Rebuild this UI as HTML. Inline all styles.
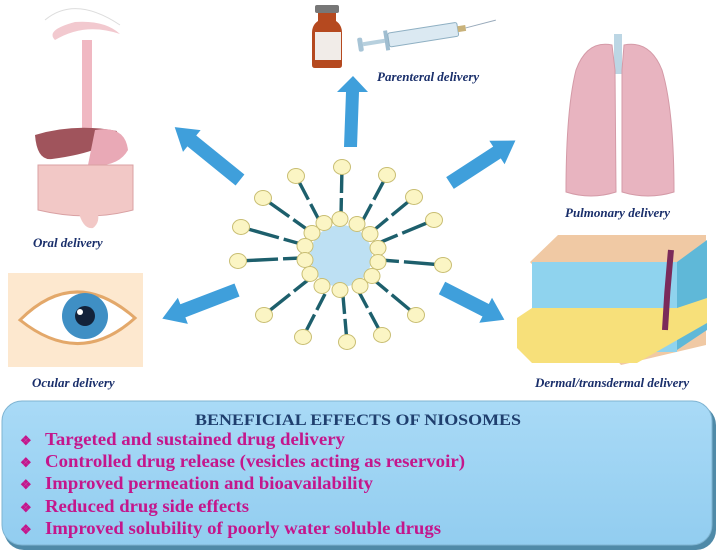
<!DOCTYPE html>
<html><head><meta charset="utf-8"><style>
html,body{margin:0;padding:0;background:#fff;}
svg{display:block;}
.lab{font-family:"Liberation Serif",serif;font-style:italic;font-weight:bold;fill:#1a2f6b;font-size:13px;}
.it{font-family:"Liberation Serif",serif;font-weight:bold;fill:#c4168c;font-size:18px;}
</style></head><body>
<svg width="720" height="557" viewBox="0 0 720 557" xmlns="http://www.w3.org/2000/svg">
<defs>
<linearGradient id="bx" x1="0" y1="0" x2="0" y2="1"><stop offset="0" stop-color="#a9daf6"/><stop offset="1" stop-color="#92cdf0"/></linearGradient>
</defs>
<!-- arrows -->
<g fill="#3f9fdb">
<polygon points="344,147 346,92 337,92 353,76 368,92 359,92 357,147"/>
<g transform="translate(240,180) rotate(-141)"><polygon points="0,-7 62,-7 62,-14 84,0 62,14 62,7 0,7"/></g>
<g transform="translate(450,183) rotate(-33)"><polygon points="0,-7 56,-7 56,-14 78,0 56,14 56,7 0,7"/></g>
<g transform="translate(237,290) rotate(159)"><polygon points="0,-7 58,-7 58,-14 80,0 58,14 58,7 0,7"/></g>
<g transform="translate(442,288) rotate(27)"><polygon points="0,-7 49,-7 49,-14 70,0 49,14 49,7 0,7"/></g>
</g>
<!-- niosome -->
<g transform="translate(341,256)">
<g stroke="#1d5f6c" stroke-width="3.4" stroke-dasharray="18 5 40">
<line x1="0" y1="-40" x2="1" y2="-89"/><line x1="-22" y1="-36" x2="-45" y2="-80"/><line x1="22" y1="-36" x2="46" y2="-81"/>
<line x1="-33" y1="-26" x2="-78" y2="-58"/><line x1="33" y1="-26" x2="73" y2="-59"/><line x1="-40" y1="-12" x2="-100" y2="-29"/>
<line x1="40" y1="-14" x2="93" y2="-36"/><line x1="-40" y1="2" x2="-103" y2="5"/><line x1="40" y1="4" x2="102" y2="9"/>
<line x1="-33" y1="24" x2="-77" y2="59"/><line x1="33" y1="24" x2="75" y2="59"/><line x1="-16" y1="38" x2="-38" y2="81"/>
<line x1="2" y1="40" x2="6" y2="86"/><line x1="18" y1="36" x2="41" y2="79"/>
</g>
<circle r="31" fill="#bde0f3"/>
<g fill="#fbf5c4" stroke="#c9be73" stroke-width="1">
<ellipse cx="1" cy="-89" rx="8.5" ry="7.5"/><ellipse cx="-45" cy="-80" rx="8.5" ry="7.5"/><ellipse cx="46" cy="-81" rx="8.5" ry="7.5"/>
<ellipse cx="-78" cy="-58" rx="8.5" ry="7.5"/><ellipse cx="73" cy="-59" rx="8.5" ry="7.5"/><ellipse cx="-100" cy="-29" rx="8.5" ry="7.5"/>
<ellipse cx="93" cy="-36" rx="8.5" ry="7.5"/><ellipse cx="-103" cy="5" rx="8.5" ry="7.5"/><ellipse cx="102" cy="9" rx="8.5" ry="7.5"/>
<ellipse cx="-77" cy="59" rx="8.5" ry="7.5"/><ellipse cx="75" cy="59" rx="8.5" ry="7.5"/><ellipse cx="-38" cy="81" rx="8.5" ry="7.5"/>
<ellipse cx="6" cy="86" rx="8.5" ry="7.5"/><ellipse cx="41" cy="79" rx="8.5" ry="7.5"/>
<ellipse cx="-1" cy="-37" rx="8" ry="7.5"/><ellipse cx="-17" cy="-33" rx="8" ry="7.5"/><ellipse cx="16" cy="-32" rx="8" ry="7.5"/>
<ellipse cx="-29" cy="-23" rx="8" ry="7.5"/><ellipse cx="29" cy="-22" rx="8" ry="7.5"/><ellipse cx="-36" cy="-10" rx="8" ry="7.5"/>
<ellipse cx="37" cy="-8" rx="8" ry="7.5"/><ellipse cx="-36" cy="4" rx="8" ry="7.5"/><ellipse cx="37" cy="6" rx="8" ry="7.5"/>
<ellipse cx="-31" cy="18" rx="8" ry="7.5"/><ellipse cx="31" cy="20" rx="8" ry="7.5"/><ellipse cx="-19" cy="30" rx="8" ry="7.5"/>
<ellipse cx="19" cy="30" rx="8" ry="7.5"/><ellipse cx="-1" cy="34" rx="8" ry="7.5"/>
</g>
</g>
<!-- vial & syringe -->
<rect x="315" y="5" width="24" height="8" rx="2" fill="#777"/>
<path d="M318,13 h18 v8 q6,4 6,12 v32 q0,3 -3,3 h-24 q-3,0 -3,-3 v-32 q0,-8 6,-12z" fill="#b5491f"/>
<rect x="315" y="32" width="26" height="28" fill="#f1ece8"/>
<g transform="translate(358,45) rotate(-9)">
<rect x="0" y="-7" width="5" height="14" rx="2" fill="#a7c4d6"/>
<rect x="5" y="-2" width="22" height="4" fill="#b7d0de"/>
<rect x="27" y="-10" width="4" height="20" fill="#9fbdd0"/>
<rect x="31" y="-7" width="70" height="14" rx="2" fill="#dbe9f2" stroke="#8fb0c3"/>
<rect x="101" y="-3" width="8" height="6" fill="#c9b27a"/>
<line x1="109" y1="0" x2="140" y2="-3" stroke="#9ab" stroke-width="1"/>
</g>
<!-- lungs -->
<rect x="614" y="34" width="8" height="40" fill="#bcd6e4"/>
<path d="M612,45 q-25,-5 -36,25 q-10,40 -10,122 q25,8 50,0 l-1,-122z" fill="#e8b4c0" stroke="#d49aa7"/>
<path d="M624,45 q26,-5 38,25 q12,40 12,122 q-26,8 -52,0 l0,-122z" fill="#e8b4c0" stroke="#d49aa7"/>
<!-- skin -->
<path d="M530,262 l28,-27 h148 v110 l-85,20 z" fill="#f0c9a4"/>
<path d="M532,262 h145 v90 h-145z" fill="#8fd3ee"/>
<path d="M677,262 l30,-22 v90 l-30,20z" fill="#5fb8d8"/>
<path d="M517,318 l15,-10 h145 l30,-10 v25 l-70,40 h-105 l-15,-15z" fill="#f7e07a"/>
<path d="M665,330 q2,-40 6,-80" stroke="#7b2a5a" stroke-width="6" fill="none"/>
<!-- digestive -->
<path d="M55,40 q30,-18 65,-6 q-15,-14 -45,-12 q-30,8 -20,18z" fill="#f2c9cf"/>
<rect x="82" y="40" width="10" height="90" fill="#f0b8c2"/>
<path d="M35,135 q40,-12 82,-4 q-5,20 -65,28 q-15,2 -17,-24z" fill="#a0545c"/>
<path d="M95,130 q30,-5 33,20 q-10,18 -40,15z" fill="#e9a9b6"/>
<path d="M38,165 h95 v45 q-45,12 -95,0z" fill="#f2c8c6" stroke="#d9a1a3"/>
<path d="M78,210 q5,20 15,18 q8,-6 4,-18z" fill="#f2c8c6"/>
<path d="M45,20 q30,-25 75,5" stroke="#ddd" fill="none"/>
<!-- eye -->
<rect x="8" y="273" width="135" height="94" fill="#fde8cf"/>
<path d="M20,320 q55,-55 115,-2 q-55,50 -115,2z" fill="#fff" stroke="#e3a86a" stroke-width="3"/>
<circle cx="85" cy="316" r="23" fill="#3f8fc4"/>
<circle cx="85" cy="316" r="10" fill="#13233b"/>
<circle cx="80" cy="312" r="3" fill="#fff"/>
<!-- labels -->
<text class="lab" x="33" y="247">Oral delivery</text>
<text class="lab" x="377" y="81">Parenteral delivery</text>
<text class="lab" x="565" y="217">Pulmonary delivery</text>
<text class="lab" x="32" y="387">Ocular delivery</text>
<text class="lab" x="535" y="387">Dermal/transdermal delivery</text>
<!-- box -->
<rect x="4" y="405" width="712" height="145" rx="20" fill="#4f8aa8"/>
<rect x="2" y="401" width="710" height="144" rx="20" fill="url(#bx)" stroke="#7fb4d2"/>
<text x="358" y="425" text-anchor="middle" font-family="Liberation Serif,serif" font-weight="bold" font-size="16" fill="#1f3f6e" textLength="326" lengthAdjust="spacingAndGlyphs">BENEFICIAL EFFECTS OF NIOSOMES</text>
<g class="it">
<text x="20" y="445" font-size="13">❖</text><text x="45" y="445" textLength="300" lengthAdjust="spacingAndGlyphs">Targeted and sustained drug delivery</text>
<text x="20" y="467" font-size="13">❖</text><text x="45" y="467" textLength="420" lengthAdjust="spacingAndGlyphs">Controlled drug release (vesicles acting as reservoir)</text>
<text x="20" y="489" font-size="13">❖</text><text x="45" y="489" textLength="328" lengthAdjust="spacingAndGlyphs">Improved permeation and bioavailability</text>
<text x="20" y="512" font-size="13">❖</text><text x="45" y="512" textLength="204" lengthAdjust="spacingAndGlyphs">Reduced drug side effects</text>
<text x="20" y="534" font-size="13">❖</text><text x="45" y="534" textLength="396" lengthAdjust="spacingAndGlyphs">Improved solubility of poorly water soluble drugs</text>
</g>
</svg>
</body></html>
